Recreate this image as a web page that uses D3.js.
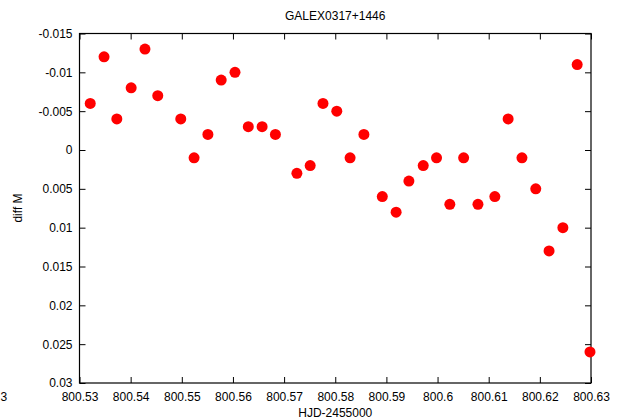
<!DOCTYPE html>
<html>
<head>
<meta charset="utf-8">
<script src="https://cdn.jsdelivr.net/npm/d3@7"></script>
<style>
  body { margin: 0; background: #fff; }
  text { font-family: "Liberation Sans", Arial, sans-serif; font-size: 12px; fill: #000; }
</style>
</head>
<body>
<div id="chart"></div>
<script>
// HJD-2455000 values
const hjd = [
    800.5321, 800.5348, 800.5373, 800.5401, 800.5428, 800.5453, 800.5498, 800.5524,
    800.5551, 800.5577, 800.5604, 800.5630, 800.5657, 800.5683, 800.5725, 800.5751,
    800.5776, 800.5803, 800.5829, 800.5856, 800.5892, 800.5919, 800.5944, 800.5972,
    800.5998, 800.6024, 800.6051, 800.6079, 800.6112, 800.6138, 800.6165, 800.6192,
    800.6218, 800.6245, 800.6273, 800.6298
];
// diff M values
const diffM = [
    -0.006, -0.012, -0.004, -0.008, -0.013, -0.007, -0.004, 0.001,
    -0.002, -0.009, -0.010, -0.003, -0.003, -0.002, 0.003, 0.002,
    -0.006, -0.005, 0.001, -0.002, 0.006, 0.008, 0.004, 0.002,
    0.001, 0.007, 0.001, 0.007, 0.006, -0.004, 0.001, 0.005,
    0.013, 0.010, -0.011, 0.026
];
const xTicks = [800.53, 800.54, 800.55, 800.56, 800.57, 800.58, 800.59, 800.6, 800.61, 800.62, 800.63];
const yTicks = [-0.015, -0.01, -0.005, 0, 0.005, 0.01, 0.015, 0.02, 0.025, 0.03];

const width = 624;
const height = 419;
const margin = { top: 33.5, right: 33, bottom: 36, left: 79.5 };

const svg = d3.select("#chart").append("svg")
    .attr("width", width)
    .attr("height", height);

const x = d3.scaleLinear()
    .domain([800.53, 800.63])
    .range([margin.left, width - margin.right]);

const y = d3.scaleLinear()
    .domain([-0.015, 0.03])
    .range([margin.top, height - margin.bottom]);

const fmt = d => String(+d.toFixed(3));

// axes with inward ticks, mirrored on top and right
svg.append("g")
    .attr("transform", `translate(0, ${height - margin.bottom})`)
    .call(d3.axisBottom(x).tickValues(xTicks).tickFormat(fmt).tickSizeInner(-6).tickSizeOuter(0).tickPadding(12))
    .call(g => g.selectAll("text").attr("dy", "0.5em"));

svg.append("g")
    .attr("transform", `translate(0, ${margin.top})`)
    .call(d3.axisTop(x).tickValues(xTicks).tickFormat("").tickSizeInner(-6).tickSizeOuter(0));

svg.append("g")
    .attr("transform", `translate(${margin.left}, 0)`)
    .call(d3.axisLeft(y).tickValues(yTicks).tickFormat(fmt).tickSizeInner(-6).tickSizeOuter(0).tickPadding(7));

svg.append("g")
    .attr("transform", `translate(${width - margin.right}, 0)`)
    .call(d3.axisRight(y).tickValues(yTicks).tickFormat("").tickSizeInner(-6).tickSizeOuter(0));

svg.selectAll(".domain").remove();
svg.selectAll(".tick text").style("font-size", "12px").attr("fill", "#000");

// border
svg.append("rect")
    .attr("x", margin.left)
    .attr("y", margin.top)
    .attr("width", width - margin.left - margin.right)
    .attr("height", height - margin.top - margin.bottom)
    .attr("fill", "none")
    .attr("stroke", "#000")
    .attr("stroke-width", 1.2);

// points
svg.append("g").selectAll("circle")
    .data(hjd.map((d, i) => ({ t: d, m: diffM[i] })))
    .join("circle")
    .attr("cx", d => x(d.t))
    .attr("cy", d => y(d.m))
    .attr("r", 5.5)
    .attr("fill", "#ff0000");

// labels
svg.append("text")
    .attr("x", (margin.left + width - margin.right) / 2)
    .attr("y", 20)
    .attr("text-anchor", "middle")
    .text("GALEX0317+1446");

svg.append("text")
    .attr("x", (margin.left + width - margin.right) / 2)
    .attr("y", 417)
    .attr("text-anchor", "middle")
    .text("HJD-2455000");

svg.append("text")
    .attr("transform", "rotate(-90)")
    .attr("x", -208)
    .attr("y", 22)
    .attr("text-anchor", "middle")
    .text("diff M");

// stray label at the lower left
svg.append("text")
    .attr("x", 0.5)
    .attr("y", 401)
    .text("3");
</script>
</body>
</html>
